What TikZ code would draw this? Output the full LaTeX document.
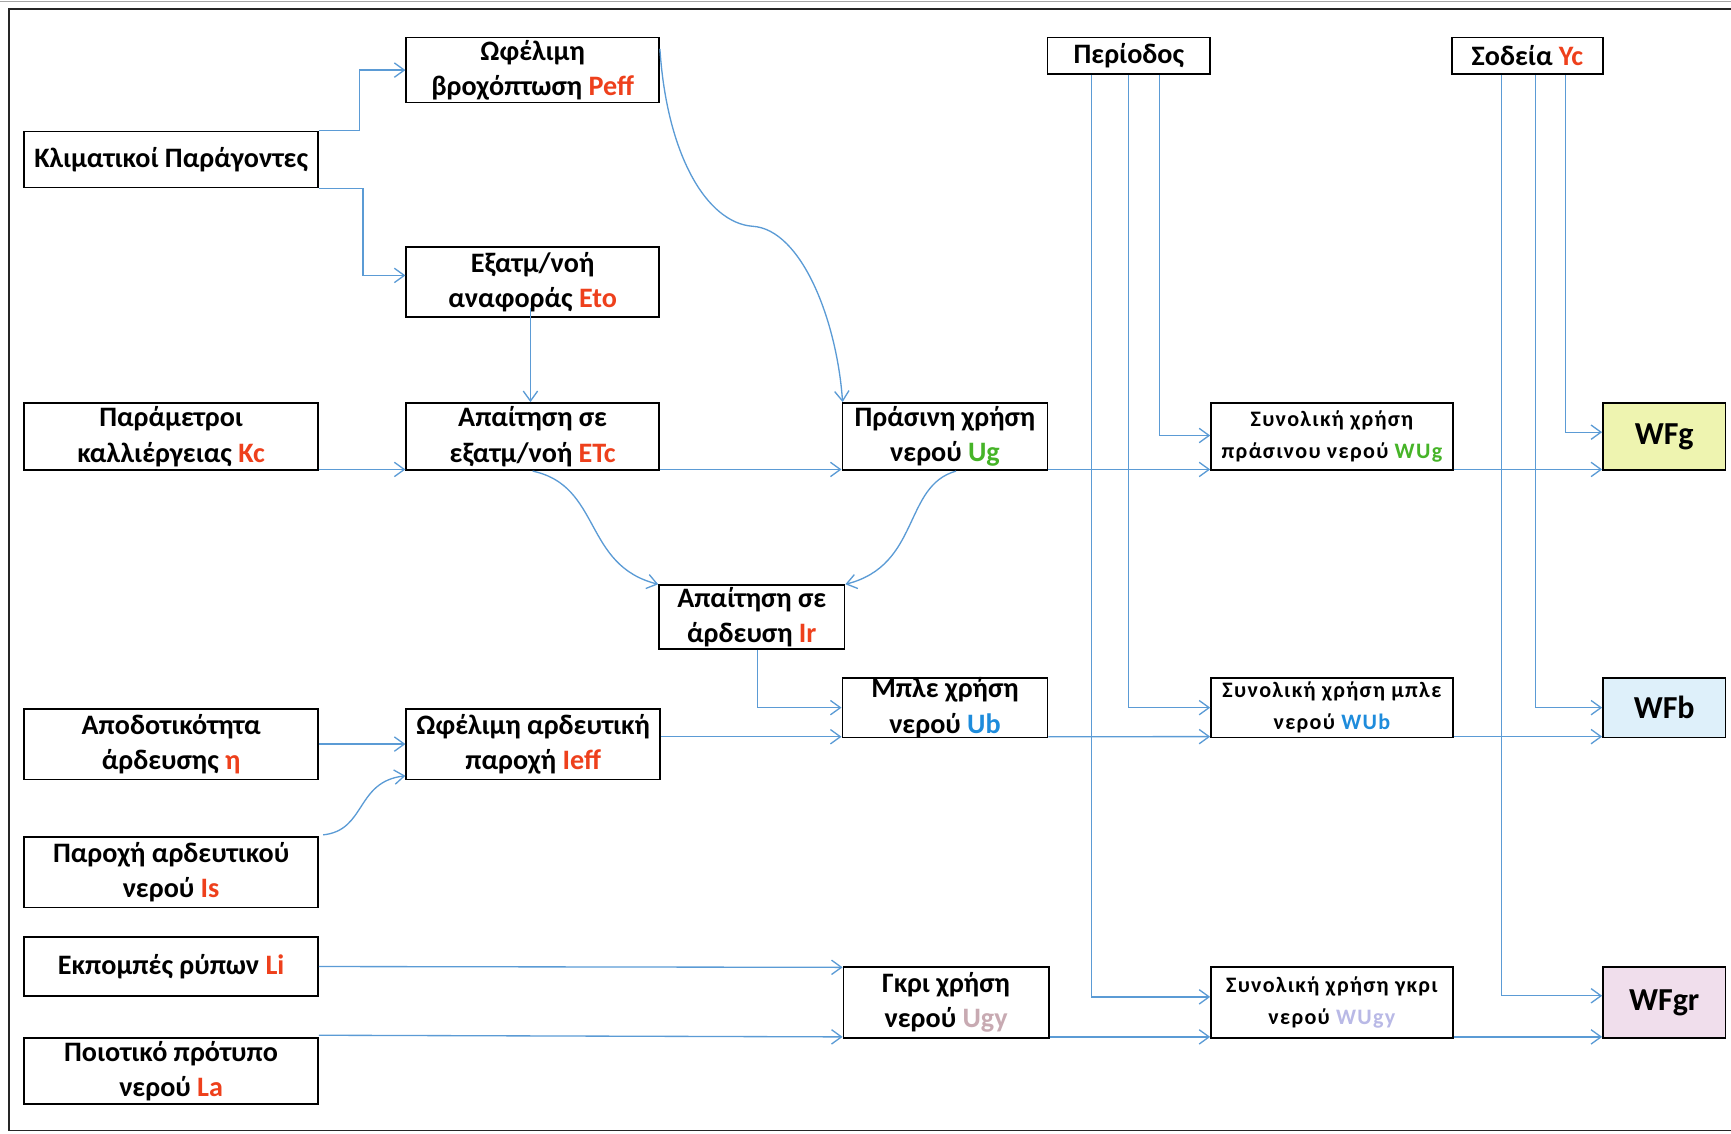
\documentclass[tikz,border=0pt]{standalone}
\usepackage{fontspec}
\setmainfont{Carlito}
\newfontfamily\widefont[LetterSpace=6]{Carlito}
\usetikzlibrary{arrows.meta}
\definecolor{flow}{RGB}{91,155,213}
\definecolor{var}{RGB}{238,64,28}
\definecolor{vgreen}{RGB}{70,180,40}
\definecolor{vblue}{RGB}{30,140,220}
\definecolor{vgray}{RGB}{200,170,178}
\definecolor{vlav}{RGB}{185,185,230}
\definecolor{fillg}{RGB}{238,244,176}
\definecolor{fillb}{RGB}{222,240,250}
\definecolor{fillgr}{RGB}{240,222,236}
\begin{document}
\begin{tikzpicture}[x=1pt,y=-1pt,
  box/.style={draw=black, line width=1.5pt, fill=white, align=center, inner sep=0pt,
    font=\bfseries\fontsize{25.5}{32}\selectfont},
  sumbox/.style={box, font=\widefont\bfseries\fontsize{20}{29}\selectfont},
  wfbox/.style={box, font=\bfseries\fontsize{29}{32}\selectfont},
  link/.style={draw=flow, line width=1.2pt, -{Straight Barb[length=9pt,width=13pt,line width=1.2pt]}},
  plain/.style={draw=flow, line width=1.2pt}]
\useasboundingbox (0,0) rectangle (1568,1027);
% page frame
\draw[gray!70, line width=1pt] (0,1) -- (1568,1);
\draw[black!85, line width=1.5pt] (1590,8) -- (8,8) -- (8,1024) -- (1590,1024);

% input boxes
\node[box, minimum width=266, minimum height=51] (klim) at (155,144.5) {Κλιματικοί Παράγοντες};
\node[box, minimum width=229, minimum height=59] (peff) at (482.5,63.5) {Ωφέλιμη\\βροχόπτωση \textcolor{var}{Peff}};
\node[box, minimum width=229, minimum height=63] (eto) at (482.5,255.5) {Εξατμ/νοή\\αναφοράς \textcolor{var}{Eto}};
\node[box, minimum width=266, minimum height=61] (kc) at (155,395.5) {Παράμετροι\\καλλιέργειας \textcolor{var}{Kc}};
\node[box, minimum width=229, minimum height=61] (etc) at (482.5,395.5) {Απαίτηση σε\\εξατμ/νοή \textcolor{var}{ETc}};
\node[box, minimum width=186, minimum height=61] (ug) at (856,395.5) {Πράσινη χρήση\\νερού \textcolor{vgreen}{Ug}};
\node[box, minimum width=168, minimum height=58] (ir) at (681,559) {Απαίτηση σε\\άρδευση \textcolor{var}{Ir}};
\node[box, minimum width=186, minimum height=54] (ub) at (856,641) {Μπλε χρήση\\νερού \textcolor{vblue}{Ub}};
\node[box, minimum width=266, minimum height=64] (eta) at (155,674) {Αποδοτικότητα\\άρδευσης \textcolor{var}{η}};
\node[box, minimum width=230, minimum height=64] (ieff) at (483,674) {Ωφέλιμη αρδευτική\\παροχή \textcolor{var}{Ieff}};
\node[box, minimum width=266, minimum height=64] (is) at (155,790) {Παροχή αρδευτικού\\νερού \textcolor{var}{Is}};
\node[box, minimum width=266, minimum height=53] (li) at (155,875.5) {Εκπομπές ρύπων \textcolor{var}{Li}};
\node[box, minimum width=266, minimum height=60] (la) at (155,970) {Ποιοτικό πρότυπο\\νερού \textcolor{var}{La}};
\node[box, minimum width=186, minimum height=64] (ugy) at (857,908) {Γκρι χρήση\\νερού \textcolor{vgray}{Ugy}};
\node[box, minimum width=147, minimum height=33] (per) at (1022.5,50.5) {Περίοδος};
\node[box, minimum width=137, minimum height=33] (yc) at (1383.5,50.5) {Σοδεία \textcolor{var}{Yc}};

% totals
\node[sumbox, minimum width=219, minimum height=61] (wug) at (1206.5,395.5) {Συνολική χρήση\\πράσινου νερού \textcolor{vgreen}{WUg}};
\node[sumbox, minimum width=219, minimum height=54] (wub) at (1206.5,641) {Συνολική χρήση μπλε\\νερού \textcolor{vblue}{WUb}};
\node[sumbox, minimum width=219, minimum height=64] (wugy) at (1206.5,908) {Συνολική χρήση γκρι\\νερού \textcolor{vlav}{WUgy}};

% water footprints
\node[wfbox, fill=fillg, minimum width=111, minimum height=61] (wfg) at (1507.5,395.5) {WFg};
\node[wfbox, fill=fillb, minimum width=111, minimum height=54] (wfb) at (1507.5,641) {WFb};
\node[wfbox, fill=fillgr, minimum width=111, minimum height=64] (wfgr) at (1507.5,908) {WFgr};

% climate and crop chain
\draw[link] (klim.north east) -- ++(37,0) |- (peff.west);
\draw[link] (klim.south east) -- ++(40,0) |- ([yshift=6pt]eto.west);
\draw[link] ([xshift=-2pt,yshift=9pt]eto.south) -- ([xshift=-2pt]etc.north);
\coordinate (bend) at (682,205);
\draw[link] ([yshift=-11pt]peff.north east) .. controls (604,140) and (640,202) .. (bend)
  .. controls (726,208) and (758,290) .. ([xshift=1pt]ug.north west);
\draw[link] ([yshift=1.5pt]kc.south east) -- ([yshift=1.5pt]etc.south west);
\draw[link] ([yshift=1.5pt]etc.south east) -- ([yshift=1.5pt]ug.south west);
\draw[link] ([yshift=1.5pt]ug.south east) -- ([yshift=1.5pt]wug.south west);
\draw[link] ([yshift=1.5pt]wug.south east) -- ([yshift=1.5pt]wfg.south west);
\draw[link] (etc.south) .. controls (545,440) and (528,512) .. (ir.north west);
\draw[link] ([xshift=10pt]ug.south) .. controls (818,440) and (834,512) .. (ir.north east);

% blue water chain
\draw[link] ([xshift=5pt]ir.south) |- (ub.west);
\draw[link] (eta.east) -- (ieff.west);
\draw[link] ([xshift=4pt,yshift=1pt]is.north east) .. controls (332,752) and (322,708) .. ([yshift=4pt]ieff.south west);
\draw[link] ([yshift=1.5pt]ieff.east |- ub.south west) -- ([yshift=1.5pt]ub.south west);
\draw[link] ([yshift=1.5pt]ub.south east) -- ([yshift=1.5pt]wub.south west);
\draw[link] ([yshift=1.5pt]wub.south east) -- ([yshift=1.5pt]wfb.south west);

% grey water chain
\draw[link] (li.east) -- ([yshift=-1pt]ugy.north west);
\draw[link] ([yshift=1.5pt]la.north east) -- ([yshift=1.5pt]ugy.south west);
\draw[link] ([yshift=1.5pt]ugy.south east) -- ([yshift=1.5pt]wugy.south west);
\draw[link] ([yshift=1.5pt]wugy.south east) -- ([yshift=1.5pt]wfgr.south west);

% period and yield feeds
\draw[link] ([xshift=27.5pt]per.south) |- ([yshift=1pt]wug.west);
\draw[link] (per.south) |- (wub.west);
\draw[link] ([xshift=-33.5pt]per.south) |- ([yshift=5pt]wugy.west);
\draw[link] ([xshift=34.5pt]yc.south) |- ([yshift=4pt]wfg.west);
\draw[link] ([xshift=7.5pt]yc.south) |- (wfb.west);
\draw[link] ([xshift=-23.5pt]yc.south) |- ([yshift=6pt]wfgr.west);
\end{tikzpicture}
\end{document}
